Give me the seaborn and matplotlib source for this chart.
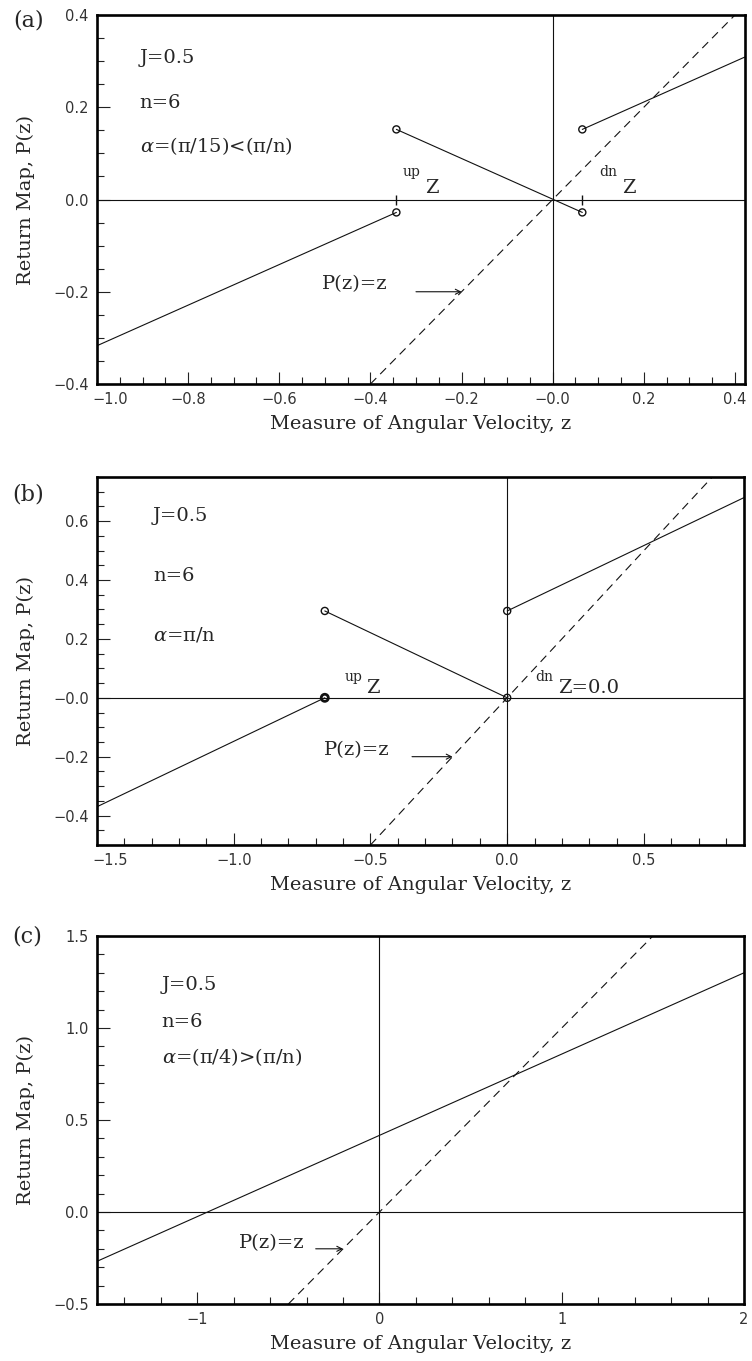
import numpy as np
import pandas as pd
import matplotlib
matplotlib.use("Agg")
import matplotlib.pyplot as plt
import seaborn as sns
from matplotlib.ticker import FixedLocator, MultipleLocator
from matplotlib.transforms import ScaledTranslation

# ---------------- data ----------------
# Panel (a): alpha = pi/15 < pi/n
a_seg_z = [[-1.0, -0.343], [-0.343, 0.065], [0.065, 0.422]]
a_seg_p = [[-0.317, -0.028], [0.152, -0.028], [0.152, 0.309]]
a_circ_z = [-0.343, -0.343, 0.065, 0.065]
a_circ_p = [-0.028, 0.152, -0.028, 0.152]
a_mark_z = [-0.343, 0.065]
a_xticks = [-1.0, -0.8, -0.6, -0.4, -0.2, 0.0, 0.2, 0.4]
a_xlabels = ["\u22121.0", "\u22120.8", "\u22120.6", "\u22120.4", "\u22120.2", "\u22120.0", "0.2", "0.4"]
a_yticks = [-0.4, -0.2, 0.0, 0.2, 0.4]
a_ylabels = ["\u22120.4", "\u22120.2", "0.0", "0.2", "0.4"]
a_params = ["J=0.5", "n=6", "$\\alpha$=(\u03c0/15)<(\u03c0/n)"]

# Panel (b): alpha = pi/n
b_seg_z = [[-1.5, -0.667], [-0.667, 0.0], [0.0, 0.866]]
b_seg_p = [[-0.37, 0.0], [0.295, 0.0], [0.295, 0.68]]
b_circ_z = [-0.667, 0.0, 0.0]
b_circ_p = [0.295, 0.0, 0.295]
b_dbl_z = [-0.667]
b_dbl_p = [0.0]
b_xticks = [-1.5, -1.0, -0.5, 0.0, 0.5]
b_xlabels = ["\u22121.5", "\u22121.0", "\u22120.5", "0.0", "0.5"]
b_yticks = [-0.4, -0.2, 0.0, 0.2, 0.4, 0.6]
b_ylabels = ["\u22120.4", "\u22120.2", "\u22120.0", "0.2", "0.4", "0.6"]
b_params = ["J=0.5", "n=6", "$\\alpha$=\u03c0/n"]

# Panel (c): alpha = pi/4 > pi/n
c_seg_z = [[-1.55, 2.0]]
c_seg_p = [[-0.268, 1.30]]
c_xticks = [-1, 0, 1, 2]
c_xlabels = ["\u22121", "0", "1", "2"]
c_yticks = [-0.5, 0.0, 0.5, 1.0, 1.5]
c_ylabels = ["\u22120.5", "0.0", "0.5", "1.0", "1.5"]
c_params = ["J=0.5", "n=6", "$\\alpha$=(\u03c0/4)>(\u03c0/n)"]

# ---------------- style ----------------
sns.set_style("ticks")
plt.rcParams["font.family"] = ["DejaVu Sans"]
plt.rcParams["mathtext.fontset"] = "dejavuserif"
plt.rcParams["lines.scale_dashes"] = False
plt.rcParams["lines.dashed_pattern"] = [6.0, 4.0]

W, H = 752, 1361
fig = plt.figure(figsize=(W / 100, H / 100), dpi=100)

def box(left, top, right, bottom):
    return [left / W, 1 - bottom / H, (right - left) / W, (bottom - top) / H]

axa = fig.add_axes(box(97, 15, 745, 384))
axb = fig.add_axes(box(97, 477, 744, 845))
axc = fig.add_axes(box(97, 936, 744, 1304))

SERIF = "DejaVu Serif"
LC = "#111111"

def draw_segments(ax, segz, segp):
    rows = []
    for i, (zz, pp) in enumerate(zip(segz, segp)):
        for z, p in zip(zz, pp):
            rows.append({"z": z, "P": p, "seg": i})
    df = pd.DataFrame(rows)
    sns.lineplot(data=df, x="z", y="P", units="seg", estimator=None, sort=False,
                 color=LC, lw=0.8, ax=ax, legend=False)

def draw_circles(ax, zs, ps, lw=1.0):
    sns.scatterplot(x=zs, y=ps, marker="o", s=26, color=LC, ax=ax, legend=False, zorder=5)
    coll = ax.collections[-1]
    coll.set_facecolor("none")
    coll.set_edgecolor(LC)
    coll.set_linewidth(lw)

def identity(ax, lo, hi):
    sns.lineplot(x=[lo, hi], y=[lo, hi], color=LC, lw=0.8, linestyle="--", ax=ax, legend=False)

def setup(ax, xlim, ylim, xt, xl, yt, yl, xminor, yminor, shift_first=True):
    ax.set_xlim(*xlim)
    ax.set_ylim(*ylim)
    ax.axhline(0, color=LC, lw=0.8, zorder=1)
    ax.axvline(0, color=LC, lw=0.8, zorder=1)
    ax.xaxis.set_major_locator(FixedLocator(xt))
    ax.yaxis.set_major_locator(FixedLocator(yt))
    ax.set_xticklabels(xl)
    ax.set_yticklabels(yl)
    ax.xaxis.set_minor_locator(MultipleLocator(xminor))
    ax.yaxis.set_minor_locator(MultipleLocator(yminor))
    ax.tick_params(which="both", direction="in", top=False, right=False,
                   color="#222222", width=0.8, labelsize=10.5, labelcolor="#333333", pad=6)
    ax.tick_params(which="major", length=9)
    ax.tick_params(which="minor", length=5)
    for s in ax.spines.values():
        s.set_linewidth(1.9)
        s.set_color("black")
        s.set_visible(True)
    ax.set_xlabel("Measure of Angular Velocity, z", family=SERIF, fontsize=14, va="top")
    ax.set_ylabel("Return Map, P(z)", family=SERIF, fontsize=14)
    ax.xaxis.set_label_coords(0.5, -31 / 368)
    ax.yaxis.set_label_coords(-62 / 648, 0.5)
    if shift_first:
        lab = ax.get_xticklabels()[0]
        lab.set_horizontalalignment("left")
        lab.set_transform(lab.get_transform() + ScaledTranslation(-3 / 72, 0, fig.dpi_scale_trans))

def params(ax, texts, x, ys):
    for t, y in zip(texts, ys):
        ax.text(x, y, t, transform=ax.transAxes, family=SERIF, fontsize=14, va="baseline", ha="left")

def pz_label(ax, xr, yc, z0, ztip):
    ax.text(xr, yc, "P(z)=z", family=SERIF, fontsize=14, ha="right", va="center")
    ax.annotate("", xy=(ztip, ztip), xytext=(z0, ztip),
                arrowprops=dict(arrowstyle="->", lw=0.8, color=LC, mutation_scale=9,
                                shrinkA=0, shrinkB=0))

def sup_label(ax, xs, ys, sup, xb, yb, base):
    ax.text(xs, ys, sup, family=SERIF, fontsize=10, va="baseline", ha="left")
    ax.text(xb, yb, base, family=SERIF, fontsize=14, va="baseline", ha="left")

# ---------------- panel (a) ----------------
identity(axa, -0.4, 0.4)
draw_segments(axa, a_seg_z, a_seg_p)
draw_circles(axa, a_circ_z, a_circ_p)
sns.scatterplot(x=a_mark_z, y=[0.0] * len(a_mark_z), marker="|", s=50, color=LC,
                linewidth=1.0, ax=axa, legend=False)
setup(axa, (-1.0, 0.422), (-0.4, 0.4), a_xticks, a_xlabels, a_yticks, a_ylabels, 0.05, 0.05)
params(axa, a_params, 0.066, [0.870, 0.748, 0.629])
pz_label(axa, -0.363, -0.184, -0.30, -0.2)
sup_label(axa, -0.330, 0.05, "up", -0.281, 0.015, "Z")
sup_label(axa, 0.103, 0.05, "dn", 0.152, 0.015, "Z")

# ---------------- panel (b) ----------------
identity(axb, -0.5, 0.75)
draw_segments(axb, b_seg_z, b_seg_p)
draw_circles(axb, b_circ_z, b_circ_p)
draw_circles(axb, b_dbl_z, b_dbl_p, lw=2.0)
setup(axb, (-1.5, 0.866), (-0.5, 0.75), b_xticks, b_xlabels, b_yticks, b_ylabels, 0.1, 0.05)
params(axb, b_params, 0.0864, [0.880, 0.717, 0.557])
pz_label(axb, -0.429, -0.176, -0.348, -0.2)
sup_label(axb, -0.593, 0.058, "up", -0.516, 0.017, "Z")
sup_label(axb, 0.103, 0.058, "dn", 0.187, 0.017, "Z=0.0")

# ---------------- panel (c) ----------------
identity(axc, -0.5, 1.5)
draw_segments(axc, c_seg_z, c_seg_p)
setup(axc, (-1.55, 2.0), (-0.5, 1.5), c_xticks, c_xlabels, c_yticks, c_ylabels, 0.2, 0.1,
      shift_first=False)
params(axc, c_params, 0.100, [0.853, 0.753, 0.655])
pz_label(axc, -0.41, -0.168, -0.35, -0.2)

# panel letters
fig.text(13 / W, 1 - 20 / H, "(a)", family=SERIF, fontsize=16, va="center", ha="left")
fig.text(12 / W, 1 - 495 / H, "(b)", family=SERIF, fontsize=16, va="center", ha="left")
fig.text(12 / W, 1 - 937 / H, "(c)", family=SERIF, fontsize=16, va="center", ha="left")

fig.savefig("out.png", dpi=100)
